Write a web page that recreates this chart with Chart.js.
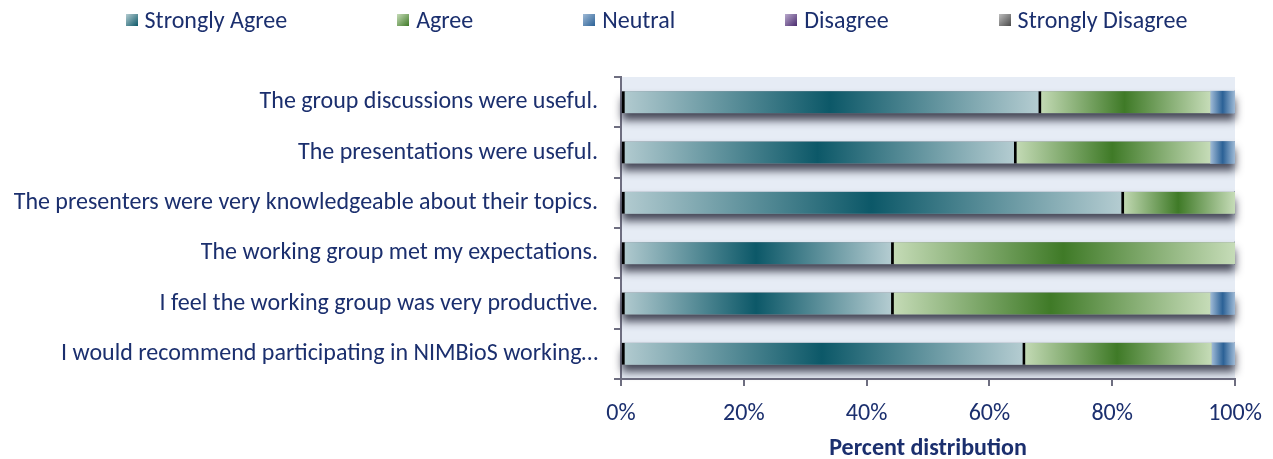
<!DOCTYPE html>
<html>
<head>
<meta charset="utf-8">
<script src="https://cdn.jsdelivr.net/npm/chart.js@4"></script>
<style>
  html, body { margin: 0; padding: 0; background: #fff; }
  #wrap { position: relative; width: 1273px; height: 459px; }
  #legend {
    position: absolute; top: 5px; left: 0; width: 1273px; padding-left: 40px; box-sizing: border-box;
    display: flex; justify-content: center; gap: 110px;
    font: 24px Carlito, Lato, sans-serif; color: #1b2f6e;
  }
  #legend span.item { display: flex; align-items: center; }
  #legend i { display: inline-block; width: 12px; height: 12px; margin-right: 7px; }
</style>
</head>
<body>
<div id="wrap">
  <div id="legend"></div>
  <canvas id="c" width="1273" height="459"></canvas>
</div>
<script>
const questions = [
  "The group discussions were useful.",
  "The presentations were useful.",
  "The presenters were very knowledgeable about their topics.",
  "The working group met my expectations.",
  "I feel the working group was very productive.",
  "I would recommend participating in NIMBioS working\u2026",
];
const seriesNames = ["Strongly Agree", "Agree", "Neutral", "Disagree", "Strongly Disagree"];
const stronglyAgree = [68, 64, 81.5, 44, 44, 65.4];
const agree = [28, 32, 18.5, 56, 52, 30.8];
const neutral = [4, 4, 0, 0, 4, 3.8];
const disagree = [0, 0, 0, 0, 0, 0];
const stronglyDisagree = [0, 0, 0, 0, 0, 0];
const xTicks = [0, 20, 40, 60, 80, 100];

const NAVY = "#1b2f6e";
const FONT = "Carlito, Lato, sans-serif";
// [edge colour, centre colour] per series
const shades = [
  ["#b4ccd1", "#0c5868"],
  ["#c6dcb8", "#3f7a27"],
  ["#9fbad6", "#2b6196"],
  ["#b9a9cc", "#4a2a6e"],
  ["#bdbdbd", "#4a4a4a"],
];

const allSeries = [stronglyAgree, agree, neutral, disagree, stronglyDisagree];

function segGradient(ctx){
  const chart = ctx.chart;
  const di = ctx.datasetIndex;
  const i = ctx.dataIndex;
  const [edge, mid] = shades[di];
  if (!chart.chartArea || i === undefined) return mid;
  let start = 0;
  for (let k = 0; k < di; k++) start += allSeries[k][i];
  const end = start + allSeries[di][i];
  const x = chart.scales.x;
  const x0 = x.getPixelForValue(start), x1 = x.getPixelForValue(end);
  if (x1 - x0 < 1) return mid;
  const g = chart.ctx.createLinearGradient(x0, 0, x1, 0);
  g.addColorStop(0, edge);
  g.addColorStop(0.5, mid);
  g.addColorStop(1, edge);
  return g;
}

// legend as html
const legendEl = document.getElementById("legend");
legendEl.innerHTML = seriesNames.map((n, k) =>
  `<span class="item"><i style="background:linear-gradient(135deg, ${shades[k][0]}, ${shades[k][1]})"></i>${n}</span>`
).join("");

const plotBg = {
  id: "plotBg",
  beforeDraw(chart){
    const { ctx, chartArea: a } = chart;
    ctx.save();
    ctx.fillStyle = "#e6ecf5";
    ctx.fillRect(a.left, a.top, a.right - a.left, a.bottom - a.top);
    ctx.restore();
  },
};

// soft shadow under each whole bar, taken from the bar elements themselves
const barShadow = {
  id: "barShadow",
  beforeDatasetsDraw(chart){
    const ctx = chart.ctx;
    const metas = chart.getSortedVisibleDatasetMetas();
    ctx.save();
    ctx.fillStyle = "#8a8d98";
    ctx.shadowColor = "rgba(60,62,78,0.95)";
    ctx.shadowBlur = 8;
    ctx.shadowOffsetY = 7;
    questions.forEach((q, i) => {
      const els = metas.map((m) => m.data[i]).filter((e) => e && Math.abs(e.x - e.base) > 0.5);
      if (!els.length) return;
      const left = Math.min(...els.map((e) => Math.min(e.x, e.base)));
      const right = Math.max(...els.map((e) => Math.max(e.x, e.base)));
      const h = els[0].height;
      ctx.fillRect(left, els[0].y - h / 2, right - left, h);
    });
    ctx.restore();
  },
};

new Chart(document.getElementById("c"), {
  type: "bar",
  data: {
    labels: questions,
    datasets: allSeries.map((vals, k) => ({
      label: seriesNames[k],
      data: vals,
      backgroundColor: segGradient,
      borderColor: "#000",
      borderWidth: k < 2 ? { left: 3, right: 0, top: 0, bottom: 0 } : 0,
      borderSkipped: false,
      barThickness: 22,
    })),
  },
  options: {
    indexAxis: "y",
    responsive: false,
    animation: false,
    layout: { padding: { left: 10, right: 38, top: 77, bottom: 0 } },
    plugins: { legend: { display: false }, tooltip: { enabled: false } },
    scales: {
      x: {
        stacked: true,
        min: 0,
        max: 100,
        afterBuildTicks(scale){ scale.ticks = xTicks.map((v) => ({ value: v })); },
        afterFit(scale){ scale.height = 80; scale.paddingLeft = 0; scale.paddingRight = 0; },
        ticks: { callback: (v) => v + "%", color: NAVY, font: { family: FONT, size: 24 }, padding: 14 },
        grid: { drawOnChartArea: false, drawTicks: true, tickLength: 7, color: "#6e6e80", lineWidth: 2 },
        border: { display: true, color: "#6e6e80", width: 2 },
        title: { display: true, text: "Percent distribution", color: NAVY, font: { family: FONT, size: 24, weight: "bold" }, padding: { top: 0, bottom: -4 } },
      },
      y: {
        stacked: true,
        afterFit(scale){ scale.width = 611; },
        ticks: { color: NAVY, font: { family: FONT, size: 24 }, padding: 16 },
        grid: { offset: true, drawOnChartArea: false, drawTicks: true, tickLength: 7, color: "#6e6e80", lineWidth: 2 },
        border: { display: true, color: "#6e6e80", width: 2 },
      },
    },
  },
  plugins: [plotBg, barShadow],
});
</script>
</body>
</html>
